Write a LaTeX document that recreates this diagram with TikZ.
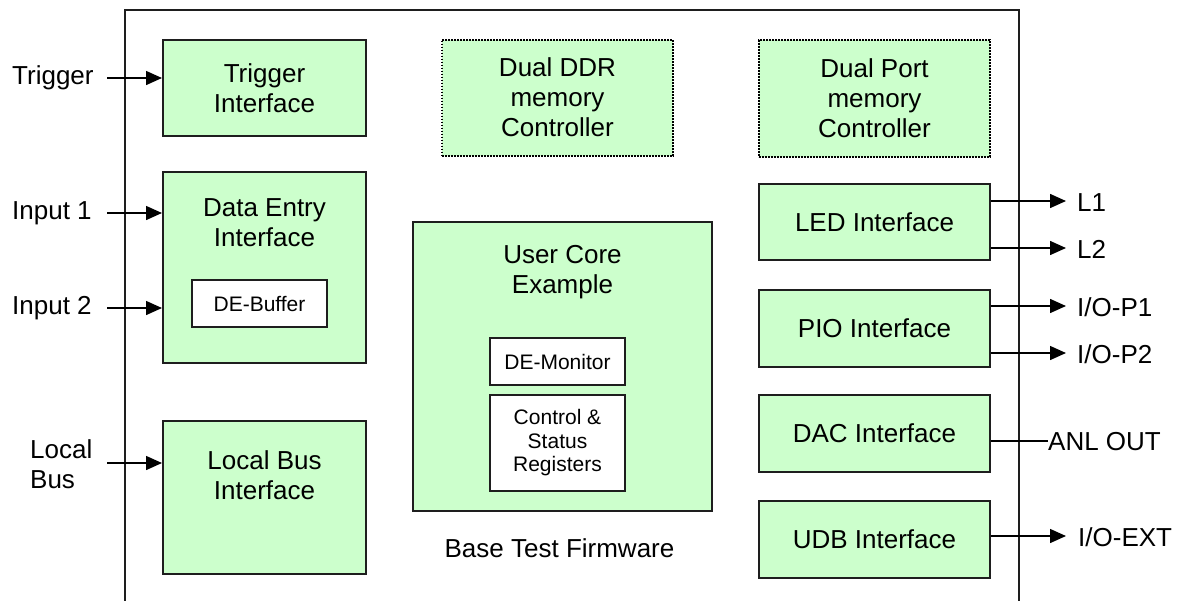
\documentclass[tikz,border=0pt]{standalone}
\usepackage{fontspec}
\setmainfont{Liberation Sans}
\usetikzlibrary{arrows.meta}
\definecolor{boxgreen}{HTML}{CCFFCC}
\definecolor{edge}{HTML}{1E1E1E}
\begin{document}
\begin{tikzpicture}[x=1pt,y=-1pt,
  font=\fontsize{26}{30}\selectfont,
  gbox/.style={draw=edge, line width=2pt, fill=boxgreen, inner sep=0pt, align=center},
  dbox/.style={draw=black, line width=2pt, dash pattern=on 1.6pt off 1.4pt, fill=boxgreen, inner sep=0pt, align=center},
  wbox/.style={draw=edge, line width=2pt, fill=white, inner sep=0pt, align=center, font=\fontsize{21}{23.5}\selectfont},
  txt/.style={inner sep=0pt, align=center},
  lbl/.style={inner sep=0pt, anchor=base west},
  arr/.style={line width=1.5pt, -{Triangle[length=16pt,width=14pt]}},
  wire/.style={line width=1.5pt}]
\useasboundingbox (0,0) rectangle (1178,600);
% outer frame (open at bottom)
\draw[line width=2pt, draw=edge] (125,602) -- (125,10) -- (1019,10) -- (1019,602);
% left column
\node[gbox, minimum width=203pt, minimum height=96pt] (trig) at (264.5,88) {Trigger\\Interface};
\node[gbox, minimum width=203pt, minimum height=191pt] (de) at (264.5,267.5) {};
\node[txt] (detxt) at (264.5,222.5) {Data Entry\\Interface};
\node[wbox, minimum width=135pt, minimum height=47pt] (debuf) at (259.5,303.5) {DE-Buffer};
\node[gbox, minimum width=203pt, minimum height=153pt] (lb) at (264.5,497.5) {};
\node[txt] (lbtxt) at (264.5,475) {Local Bus\\Interface};
% middle column
\node[dbox, minimum width=231pt, minimum height=116pt] (ddr) at (557.5,97.5) {Dual DDR\\memory\\Controller};
\node[gbox, minimum width=299pt, minimum height=289pt] (uc) at (562.5,366.5) {};
\node[txt] (uctxt) at (562.5,272) {User Core\\Example};
\node[wbox, minimum width=135pt, minimum height=47pt] (demon) at (557.5,361.5) {DE-Monitor};
\node[wbox, minimum width=135pt, minimum height=96pt] (csr) at (557.5,443) {Control \&\\Status\\Registers};
\node[txt] (btf) at (559.5,548) {Base Test Firmware};
% right column
\node[dbox, minimum width=231pt, minimum height=117pt] (dp) at (874.5,98.5) {Dual Port\\memory\\Controller};
\node[gbox, minimum width=231pt, minimum height=76pt] (led) at (874.5,222) {LED Interface};
\node[gbox, minimum width=231pt, minimum height=77pt] (pio) at (874.5,328.5) {PIO Interface};
\node[gbox, minimum width=231pt, minimum height=77pt] (dac) at (874.5,433.5) {DAC Interface};
\node[gbox, minimum width=231pt, minimum height=77pt] (udb) at (874.5,539.5) {UDB Interface};
% left labels and inputs
\node[lbl] (ltrig) at (12,84) {Trigger};
\node[lbl] (lin1) at (12,219) {Input 1};
\node[lbl] (lin2) at (12,314) {Input 2};
\node[inner sep=0pt, align=left, anchor=north west] (llb) at (30,439) {Local\\Bus};
\coordinate (ctrig) at (107,78);
\coordinate (cin1) at (107,213);
\coordinate (cin2) at (107,308);
\coordinate (clb) at (107,463);
\draw[arr] (ctrig) -- (trig.west |- ctrig);
\draw[arr] (cin1) -- (de.west |- cin1);
\draw[arr] (cin2) -- (de.west |- cin2);
\draw[arr] (clb) -- (lb.west |- clb);
% right outputs
\coordinate (cl1) at (1066,201);
\coordinate (cl2) at (1066,248);
\coordinate (cp1) at (1066,306);
\coordinate (cp2) at (1066,353);
\coordinate (cext) at (1066,536);
\node[lbl] (ll1) at (1077,211) {L1};
\node[lbl] (ll2) at (1077,258) {L2};
\node[lbl] (lp1) at (1077,316) {I/O-P1};
\node[lbl] (lp2) at (1077,363) {I/O-P2};
\node[lbl] (lanl) at (1048,450) {ANL OUT};
\node[lbl] (lext) at (1078,546) {I/O-EXT};
\draw[arr] (led.east |- cl1) -- (cl1);
\draw[arr] (led.east |- cl2) -- (cl2);
\draw[arr] (pio.east |- cp1) -- (cp1);
\draw[arr] (pio.east |- cp2) -- (cp2);
\draw[wire] (dac.east |- lanl.west) -- (lanl.west);
\draw[arr] (udb.east |- cext) -- (cext);
\end{tikzpicture}
\end{document}
